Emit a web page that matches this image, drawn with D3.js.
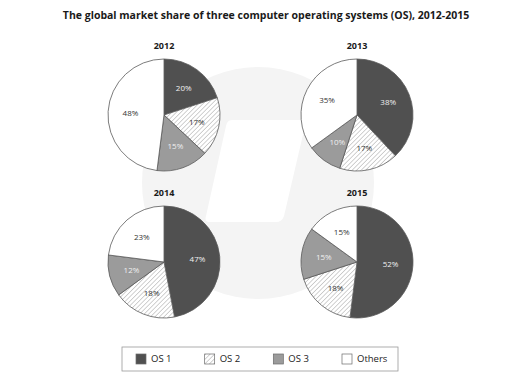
<!DOCTYPE html>
<html>
<head>
<meta charset="utf-8">
<script src="https://cdn.jsdelivr.net/npm/d3@7"></script>
<style>
  body { margin: 0; background: #fff; }
  svg { display: block; font-family: "Open Sans", sans-serif; }
</style>
</head>
<body>
<div id="chart"></div>
<script>
// data
const years = ["2012", "2013", "2014", "2015"];
const systems = ["OS 1", "OS 2", "OS 3", "Others"];
const share2012 = [20, 17, 15, 48];
const share2013 = [38, 17, 10, 35];
const share2014 = [47, 18, 12, 23];
const share2015 = [52, 18, 15, 15];
const shares = [share2012, share2013, share2014, share2015];

const width = 512, height = 388;
const radius = 56;

const svg = d3.select("#chart").append("svg")
    .attr("width", width)
    .attr("height", height);

// hatch pattern for OS 2
const defs = svg.append("defs");
const pat = defs.append("pattern")
    .attr("id", "hatch")
    .attr("patternUnits", "userSpaceOnUse")
    .attr("width", 3.2)
    .attr("height", 3.2)
    .attr("patternTransform", "rotate(45)");
pat.append("rect").attr("width", 3.2).attr("height", 3.2).attr("fill", "#fff");
pat.append("line")
    .attr("x1", 0).attr("y1", 0).attr("x2", 0).attr("y2", 3.2)
    .attr("stroke", "#9a9a9a")
    .attr("stroke-width", 0.9);

// faint watermark behind the pies
svg.append("circle")
    .attr("cx", 258).attr("cy", 183).attr("r", 116)
    .attr("fill", "#f4f4f4");
svg.append("path")
    .attr("d", "M232,120 L300,120 Q306,120 305,126 L284,216 Q282,222 276,222 L210,222 Q204,222 206,216 L226,126 Q227,120 232,120 Z")
    .attr("fill", "#fff");

// title
svg.append("text")
    .attr("x", 266).attr("y", 19)
    .attr("text-anchor", "middle")
    .attr("font-size", 10.5)
    .attr("font-weight", 700)
    .attr("fill", "#1a1a1a")
    .text("The global market share of three computer operating systems (OS), 2012-2015");

const color = d3.scaleOrdinal()
    .domain(systems)
    .range(["#505050", "url(#hatch)", "#9b9b9b", "#ffffff"]);
const labelColor = d3.scaleOrdinal()
    .domain(systems)
    .range(["#f0f0f0", "#333", "#f0f0f0", "#333"]);

const xPos = d3.scalePoint().domain([0, 1]).range([164, 357]);
const yPos = d3.scalePoint().domain([0, 1]).range([115, 262]);

const pie = d3.pie().sort(null).value(d => d.value);
const arc = d3.arc().innerRadius(0).outerRadius(radius);
const labelArc = d3.arc().innerRadius(radius * 0.6).outerRadius(radius * 0.6);

years.forEach((yr, i) => {
    const cx = xPos(i % 2), cy = yPos(Math.floor(i / 2));
    const g = svg.append("g").attr("transform", `translate(${cx},${cy})`);

    svg.append("text")
        .attr("x", cx).attr("y", cy - radius - 10)
        .attr("text-anchor", "middle")
        .attr("font-size", 9)
        .attr("font-weight", 700)
        .attr("fill", "#1a1a1a")
        .text(yr);

    const data = pie(systems.map((s, k) => ({ key: s, value: shares[i][k] })));

    g.selectAll("path")
        .data(data)
        .join("path")
        .attr("d", arc)
        .attr("fill", d => color(d.data.key))
        .attr("stroke", "#5a5a5a")
        .attr("stroke-width", 0.8);

    g.selectAll("text")
        .data(data)
        .join("text")
        .attr("transform", d => `translate(${labelArc.centroid(d)})`)
        .attr("text-anchor", "middle")
        .attr("dy", "0.35em")
        .attr("font-size", 8)
        .attr("fill", d => labelColor(d.data.key))
        .text(d => d.data.value + "%");
});

// legend
const legend = svg.append("g");
legend.append("rect")
    .attr("x", 122).attr("y", 347)
    .attr("width", 276).attr("height", 24)
    .attr("fill", "#fff")
    .attr("stroke", "#9a9a9a")
    .attr("stroke-width", 0.8);

const legX = d3.scalePoint().domain(systems).range([136, 342]);
const item = legend.selectAll("g.item")
    .data(systems)
    .join("g")
    .attr("class", "item")
    .attr("transform", d => `translate(${legX(d)},359)`);
item.append("rect")
    .attr("x", 0).attr("y", -5)
    .attr("width", 10).attr("height", 10)
    .attr("fill", d => color(d))
    .attr("stroke", "#6a6a6a")
    .attr("stroke-width", 0.7);
item.append("text")
    .attr("x", 15).attr("dy", "0.35em")
    .attr("font-size", 9.5)
    .attr("fill", "#222")
    .text(d => d);
</script>
</body>
</html>
